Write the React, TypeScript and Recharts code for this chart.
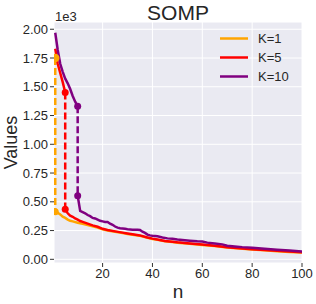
import React from 'react';
import { LineChart, Line, XAxis, YAxis, CartesianGrid } from 'recharts';

// values are in units of 1e3
const k1UpperN = [1];
const k1UpperV = [1.75];
const k1LowerN = [1, 2, 3, 4, 5, 6, 7, 8, 10, 12, 14, 16, 18, 20, 22, 25, 28, 30, 32, 35, 38, 40, 42, 45, 48, 50, 55, 60, 65, 70, 75, 80, 85, 90, 95, 100];
const k1LowerV = [0.414, 0.405, 0.39, 0.37, 0.36, 0.345, 0.335, 0.33, 0.318, 0.308, 0.298, 0.288, 0.276, 0.26, 0.251, 0.239, 0.228, 0.221, 0.214, 0.204, 0.187, 0.177, 0.169, 0.157, 0.15, 0.145, 0.135, 0.125, 0.115, 0.102, 0.093, 0.085, 0.078, 0.071, 0.064, 0.059];

const k5UpperN = [1, 2, 3, 4, 5];
const k5UpperV = [1.83, 1.7, 1.62, 1.54, 1.45];
const k5LowerN = [5, 6, 7, 8, 9, 10, 11, 12, 14, 16, 18, 20, 22, 25, 28, 30, 32, 35, 38, 40, 42, 45, 48, 50, 55, 60, 65, 70, 75, 80, 85, 90, 95, 100];
const k5LowerV = [0.435, 0.4, 0.38, 0.37, 0.355, 0.345, 0.333, 0.325, 0.31, 0.295, 0.283, 0.265, 0.255, 0.243, 0.232, 0.225, 0.218, 0.208, 0.19, 0.18, 0.172, 0.16, 0.153, 0.148, 0.138, 0.128, 0.118, 0.105, 0.096, 0.088, 0.08, 0.074, 0.067, 0.062];

const k10UpperN = [1, 2, 3, 4, 5, 6, 7, 8, 9, 10];
const k10UpperV = [1.97, 1.82, 1.7, 1.63, 1.57, 1.53, 1.48, 1.42, 1.37, 1.33];
const k10LowerN = [10, 11, 12, 13, 14, 15, 16, 17, 18, 19, 20, 21, 22, 23, 24, 25, 26, 27, 28, 29, 30, 31, 32, 33, 34, 35, 36, 37, 38, 39, 40, 42, 44, 46, 48, 50, 52, 55, 58, 60, 62, 65, 68, 70, 73, 76, 80, 85, 90, 95, 100];
const k10LowerV = [0.553, 0.42, 0.41, 0.4, 0.385, 0.375, 0.36, 0.355, 0.345, 0.335, 0.33, 0.325, 0.325, 0.31, 0.3, 0.285, 0.275, 0.27, 0.268, 0.265, 0.262, 0.26, 0.258, 0.257, 0.257, 0.255, 0.24, 0.23, 0.215, 0.208, 0.205, 0.2, 0.19, 0.182, 0.178, 0.172, 0.168, 0.162, 0.157, 0.155, 0.145, 0.137, 0.13, 0.118, 0.112, 0.106, 0.1, 0.092, 0.084, 0.077, 0.069];

const seriesNames = ['K=1', 'K=5', 'K=10'];
const seriesColors = ['#FFA500', '#FF0000', '#800080'];

const xTicks = [20, 40, 60, 80, 100];
const yTicks = [0, 0.25, 0.5, 0.75, 1, 1.25, 1.5, 1.75, 2];

const zip = (ns: number[], vs: number[]) => ns.map((n, i) => ({ n, v: vs[i] }));

const groups = [
  { up: zip(k1UpperN, k1UpperV), low: zip(k1LowerN, k1LowerV) },
  { up: zip(k5UpperN, k5UpperV), low: zip(k5LowerN, k5LowerV) },
  { up: zip(k10UpperN, k10UpperV), low: zip(k10LowerN, k10LowerV) },
].map((g) => ({
  ...g,
  dash: [g.up[g.up.length - 1], g.low[0]],
}));

const FONT = '"Liberation Sans", Arial, sans-serif';
const TEXT = '#262626';
const LW = 2.5;

export default function App() {
  return (
    <div style={{ position: 'absolute', left: 0, top: 0, width: 316, height: 304, background: '#fff' }}>
      <LineChart width={316} height={304} margin={{ top: 22, right: 14, bottom: 0, left: 0 }}>
        <CartesianGrid fill="#EAEAF2" fillOpacity={1} stroke="#ffffff" strokeWidth={1} />
        <XAxis
          type="number"
          dataKey="n"
          domain={[0.5, 100]}
          ticks={xTicks}
          allowDataOverflow
          height={41}
          tickSize={4}
          axisLine={false}
          tickLine={{ stroke: '#333' }}
          tick={{ fill: TEXT, fontSize: 13, fontFamily: FONT }}
        />
        <YAxis
          type="number"
          dataKey="v"
          domain={[-0.032, 2.063]}
          ticks={yTicks}
          allowDataOverflow
          width={54}
          tickSize={4}
          axisLine={false}
          tickLine={{ stroke: '#333' }}
          tick={{ fill: TEXT, fontSize: 13, fontFamily: FONT }}
          tickFormatter={(v: number) => v.toFixed(2)}
        />
        {groups.map((g, i) => [
          <Line key={`u${i}`} data={g.up} dataKey="v" type="linear" stroke={seriesColors[i]} strokeWidth={LW} dot={false} isAnimationActive={false} />,
          <Line key={`l${i}`} data={g.low} dataKey="v" type="linear" stroke={seriesColors[i]} strokeWidth={LW} dot={false} isAnimationActive={false} />,
          <Line
            key={`d${i}`}
            data={g.dash}
            dataKey="v"
            type="linear"
            stroke={seriesColors[i]}
            strokeWidth={LW}
            strokeDasharray="7 3"
            dot={{ r: 3.5, fill: seriesColors[i], stroke: seriesColors[i], strokeWidth: 0 }}
            isAnimationActive={false}
          />,
        ])}
      </LineChart>
      <svg width={316} height={304} style={{ position: 'absolute', left: 0, top: 0, pointerEvents: 'none' }}>
        <text x={178} y={19.5} textAnchor="middle" fontSize={21} fontFamily={FONT} fill={TEXT}>SOMP</text>
        <text x={55} y={20.5} fontSize={13} fontFamily={FONT} fill={TEXT}>1e3</text>
        <text x={178} y={298} textAnchor="middle" fontSize={19} fontFamily={FONT} fill={TEXT}>n</text>
        <text transform="translate(16.5,142.5) rotate(-90)" textAnchor="middle" fontSize={18} fontFamily={FONT} fill={TEXT}>Values</text>
        {seriesNames.map((name, i) => (
          <g key={name}>
            <line x1={220} x2={248} y1={38.5 + i * 19} y2={38.5 + i * 19} stroke={seriesColors[i]} strokeWidth={LW} />
            <text x={258} y={43 + i * 19} fontSize={13} fontFamily={FONT} fill={TEXT}>{name}</text>
          </g>
        ))}
      </svg>
    </div>
  );
}
